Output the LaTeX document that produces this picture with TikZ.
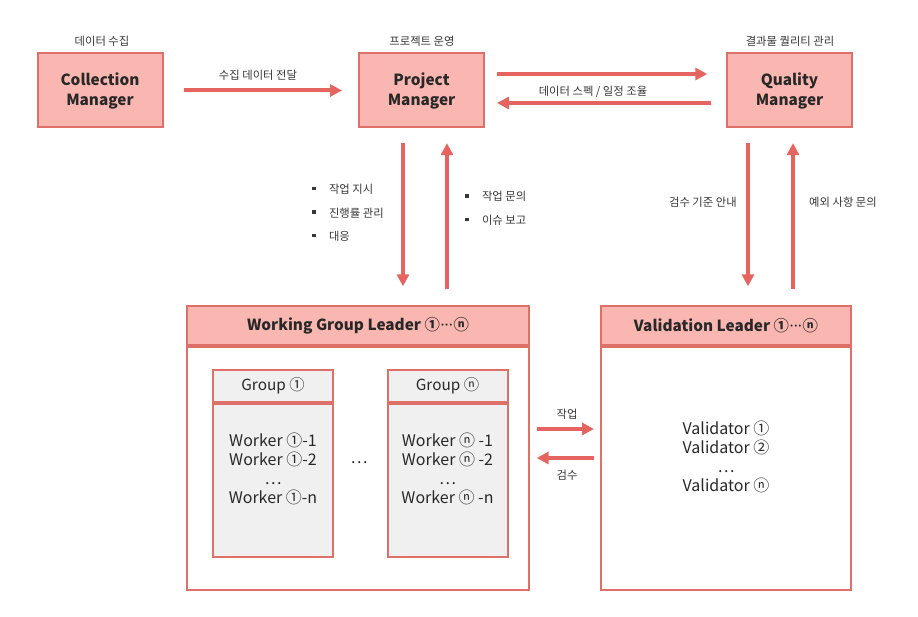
\documentclass[tikz,border=0pt]{standalone}
\usepackage{fontspec}
\setmainfont{Noto Sans CJK KR}
\newfontfamily\latinfont{Noto Sans}
\usetikzlibrary{arrows.meta,calc}
\definecolor{boxfill}{RGB}{250,182,176}
\definecolor{boxline}{RGB}{222,112,106}
\definecolor{flowred}{RGB}{230,100,95}
\definecolor{grpfill}{RGB}{240,240,240}
\definecolor{ink}{RGB}{40,40,40}
\definecolor{note}{RGB}{55,55,55}
\newcommand{\sq}{\rule[2.5pt]{2.6pt}{2.6pt}\hspace{10pt}}
\newcommand{\dotsn}{{\latinfont\bfseries\kern0.5pt···\kern0.5pt}}
\tikzset{
  mgr/.style={draw=boxline,line width=1.5pt,fill=boxfill,text=ink,align=center,
    minimum width=93.75pt,minimum height=55.5pt,inner sep=0pt,
    font=\fontsize{11.5}{15}\selectfont\bfseries},
  lead/.style={draw=boxline,line width=1.5pt,fill=boxfill,text=ink,inner sep=0pt,
    minimum height=29.25pt,font=\fontsize{11.5}{13}\selectfont\bfseries},
  leadbody/.style={draw=boxline,line width=1.5pt,fill=white,inner sep=0pt,
    minimum height=182.25pt,anchor=north},
  grp/.style={draw=boxline,line width=1.5pt,fill=grpfill,text=ink,inner sep=0pt,
    minimum width=90pt,minimum height=24pt,font=\fontsize{11.5}{13}\selectfont},
  grpbody/.style={draw=boxline,line width=1.5pt,fill=grpfill,inner sep=0pt,
    minimum width=90pt,minimum height=114.75pt,anchor=north},
  names/.style={text=ink,align=center,inner sep=0pt,font=\fontsize{12}{14.25}\selectfont},
  lbl/.style={text=note,inner sep=0pt,font=\fontsize{8.5}{10}\selectfont},
  flow/.style={draw=flowred,line width=3pt,-{Triangle[length=9pt,width=9pt]}},
}
\begin{document}
\begin{tikzpicture}[x=0.75pt,y=-0.75pt]
  \useasboundingbox (0,0) rectangle (918,617);
  % top row
  \node[mgr] (A0_0) at (100,90.5) {Collection\\Manager};
  \node[mgr] (A0_1) at (421.5,90.5) {Project\\Manager};
  \node[mgr] (A0_2) at (789.5,90.5) {Quality\\Manager};
  \node[lbl] (T0_0) at (102,41) {데이터 수집};
  \node[lbl] (T0_1) at (422,41) {프로젝트 운영};
  \node[lbl] (T0_2) at (790,41) {결과물 퀄리티 관리};
  % leaders
  \node[lead,minimum width=256.5pt] (A1_0) at (358,325.5) {Working Group Leader ①\dotsn ⓝ};
  \node[leadbody,minimum width=256.5pt] (A2_0) at (A1_0.south) {};
  \node[lead,minimum width=187.5pt] (A1_1) at (726,325.5) {Validation Leader ①\dotsn ⓝ};
  \node[leadbody,minimum width=187.5pt] (A2_1) at (A1_1.south) {};
  % groups
  \node[grp] (B0_0) at (273,386) {Group ①};
  \node[grpbody] (B1_0) at (B0_0.south) {};
  \node[grp] (B0_1) at (447.5,386) {Group ⓝ};
  \node[grpbody] (B1_1) at (B0_1.south) {};
  \node[names] (W0) at (273,469) {Worker ①-1\\Worker ①-2\\…\\Worker ①-n};
  \node[names] (W1) at (447.5,469) {Worker ⓝ -1\\Worker ⓝ -2\\…\\Worker ⓝ -n};
  \node[names] (W2) at (359,463) {…};
  \node[names] (V0) at (726,457) {Validator ①\\Validator ②\\…\\Validator ⓝ};
  % connectors
  \path (A0_0) edge [flow,shorten <=15pt,shorten >=12pt] (A0_1);
  \node[lbl] (T1_0) at (258,75) {수집 데이터 전달};
  \path ($(A0_1.east)+(0,-16.5)$) edge [flow,shorten <=9pt,shorten >=14pt]
    ($(A0_2.west)+(0,-16.5)$);
  \path ($(A0_2.west)+(0,12.5)$) edge [flow,shorten <=11pt,shorten >=9pt]
    ($(A0_1.east)+(0,12.5)$);
  \node[lbl] (T1_1) at (593,92) {데이터 스펙 / 일정 조율};
  \coordinate (C0) at ($(A0_1.south)+(-18.5,0)$);
  \coordinate (C1) at ($(A0_1.south)+(25.5,0)$);
  \coordinate (C2) at ($(A0_2.south)+(-41.5,0)$);
  \coordinate (C3) at ($(A0_2.south)+(3.5,0)$);
  \path (C0) edge [flow,shorten <=11pt,shorten >=14pt] (C0 |- A1_0.north);
  \path (C1 |- A1_0.north) edge [flow,shorten <=12pt,shorten >=11pt] (C1);
  \path (C2) edge [flow,shorten <=11pt,shorten >=14pt] (C2 |- A1_1.north);
  \path (C3 |- A1_1.north) edge [flow,shorten <=12pt,shorten >=11pt] (C3);
  \node[lbl,anchor=west,align=left,font=\fontsize{8.5}{17.6}\selectfont] (T2_0) at (312,213)
    {\sq 작업 지시\\\sq 진행률 관리\\\sq 대응};
  \node[lbl,anchor=west,align=left,font=\fontsize{8.5}{17.6}\selectfont] (T2_1) at (465,208.5)
    {\sq 작업 문의\\\sq 이슈 보고};
  \node[lbl,anchor=east] (T2_2) at (737,202) {검수 기준 안내};
  \node[lbl] (T2_3) at (843,202) {예외 사항 문의};
  \coordinate (C4) at (A2_0.east |- 0,429);
  \coordinate (C5) at (A2_0.east |- 0,458);
  \path (C4) edge [flow,shorten <=5pt,shorten >=4.5pt] (C4 -| A2_1.west);
  \path (C5 -| A2_1.west) edge [flow,shorten <=4.5pt,shorten >=5pt] (C5);
  \node[lbl] (T3_0) at (567,414) {작업};
  \node[lbl] (T3_1) at (567,475) {검수};
\end{tikzpicture}
\end{document}
